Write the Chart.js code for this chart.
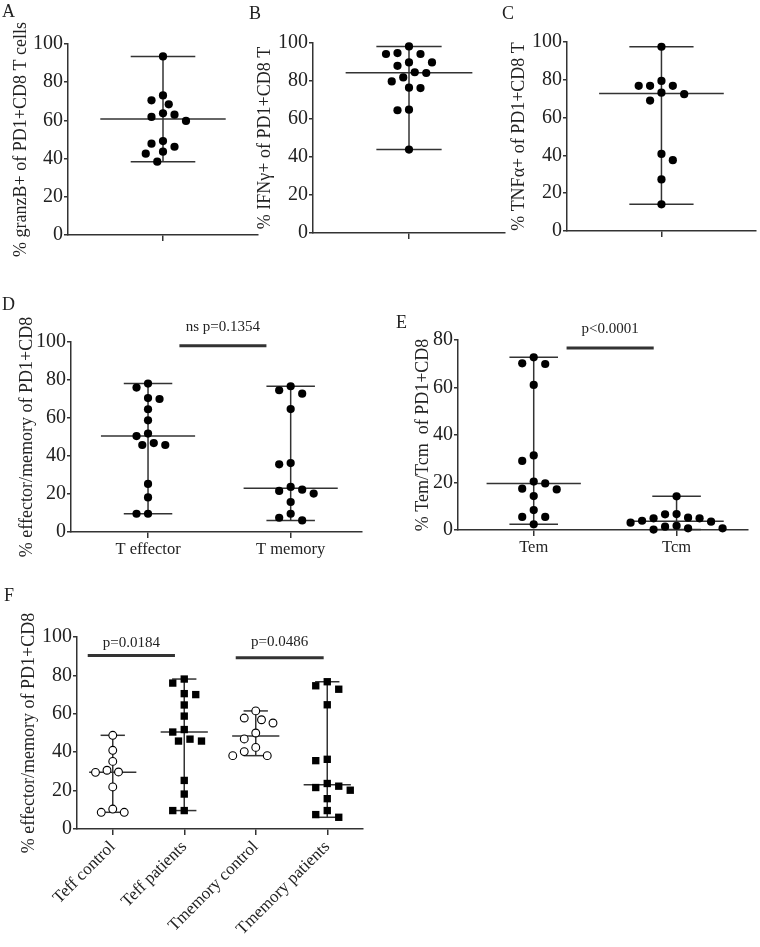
<!DOCTYPE html>
<html>
<head>
<meta charset="utf-8">
<script src="https://cdn.jsdelivr.net/npm/chart.js@4.4.0/dist/chart.umd.min.js"></script>
<style>
body{margin:0;background:#fff;}
#fig{position:relative;width:760px;height:947px;overflow:hidden;background:#fff;}
#fig canvas{position:absolute;left:0;top:0;}
.lbl{position:absolute;font:18px "Liberation Serif","Times New Roman",serif;color:#222;line-height:18px;}
</style>
</head>
<body>
<div id="fig">
  <canvas id="cA" width="760" height="947"></canvas>
  <canvas id="cB" width="760" height="947"></canvas>
  <canvas id="cC" width="760" height="947"></canvas>
  <canvas id="cD" width="760" height="947"></canvas>
  <canvas id="cE" width="760" height="947"></canvas>
  <canvas id="cF" width="760" height="947"></canvas>
  <div class="lbl" style="left:2px;top:2px">A</div>
  <div class="lbl" style="left:249px;top:4px">B</div>
  <div class="lbl" style="left:502px;top:4px">C</div>
  <div class="lbl" style="left:2px;top:295px">D</div>
  <div class="lbl" style="left:396px;top:313px">E</div>
  <div class="lbl" style="left:4px;top:586px">F</div>
</div>
<script>
// values (percent)
var granzB = [93.5, 70.5, 68.4, 73.1, 63.0, 59.7, 61.8, 63.7, 47.8, 46.2, 49.2, 43.6, 42.6, 38.4];
var ifng = [98.2, 94.7, 94.2, 94.2, 89.8, 88.0, 89.8, 84.6, 84.2, 81.9, 79.8, 76.3, 76.5, 64.9, 64.6, 43.9];
var tnfa = [97.5, 76.8, 76.8, 76.8, 79.4, 72.4, 73.2, 69.0, 40.8, 37.5, 27.3, 14.1];
var tEffector = [78.1, 76.0, 70.5, 70.0, 64.6, 58.8, 50.5, 51.8, 45.8, 45.8, 46.8, 25.3, 18.2, 9.6, 9.6];
var tMemory = [76.7, 74.6, 72.8, 64.7, 36.3, 35.6, 23.7, 20.2, 22.3, 21.6, 15.8, 9.6, 6.1, 7.5];
var tem = [72.7, 69.9, 70.2, 61.1, 31.4, 29.1, 20.4, 19.6, 17.4, 17.1, 14.3, 8.4, 5.5, 5.5, 2.4];
var tcm = [14.2, 6.7, 6.6, 5.2, 4.9, 4.9, 3.5, 3.9, 3.1, 1.8, 0.7, 0.2, 0.7, 1.4];
var teffControl = [48.8, 41.0, 35.2, 30.6, 29.5, 29.7, 21.9, 10.4, 8.7, 8.7];
var tmemControl = [61.5, 57.8, 56.9, 55.2, 50.0, 46.9, 42.5, 40.3, 38.2, 38.2];

var catsDE = ['T effector', 'T memory'];
var catsE = ['Tem', 'Tcm'];
var catsF = ['Teff control', 'Teff patients', 'Tmemory control', 'Tmemory patients'];
var yTicks100 = [0, 20, 40, 60, 80, 100];
var yTicks80 = [0, 20, 40, 60, 80];

var sigText = ['ns p=0.1354', 'p<0.0001', 'p=0.0184', 'p=0.0486'];
var sigFrom = [0.22, 0.23, -0.35, 1.72];
var sigTo = [0.83, 0.84, 0.87, 2.95];
var sigLevel = [98.0, 76.6, 90.3, 89.2];
var sigLabelLevel = [105.9, 83.1, 94.8, 95.1];

Chart.defaults.font.family = '"Liberation Serif", "Times New Roman", serif';
Chart.defaults.color = '#222';

var INK = '#333';
var MED = 0.33, CAP = 0.17;

var panels = [
  {id:'cA', left:68, top:44, right:258, bottom:235, titleX:21.5, xMin:-0.5, xMax:0.5, yTicks:yTicks100,
   title:'% granzB+ of PD1+CD8 T cells', cats:[''], groups:[granzB], marks:['dot'], sig:[], xh:12, rot:0},
  {id:'cB', left:313, top:43, right:505, bottom:233, titleX:265.5, xMin:-0.5, xMax:0.5, yTicks:yTicks100,
   title:'% IFNγ+ of PD1+CD8 T', cats:[''], groups:[ifng], marks:['dot'], sig:[], xh:12, rot:0},
  {id:'cC', left:567, top:42, right:758, bottom:231, titleX:519, xMin:-0.5, xMax:0.5, yTicks:yTicks100,
   title:'% TNFα+ of PD1+CD8 T', cats:[''], groups:[tnfa], marks:['dot'], sig:[], xh:12, rot:0},
  {id:'cD', left:71, top:342, right:362, bottom:532, titleX:27.5, xMin:-0.54, xMax:1.5, yTicks:yTicks100,
   title:'% effector/memory of PD1+CD8', cats:catsDE, groups:[tEffector, tMemory], marks:['dot','dot'], sig:[0], xh:30, rot:0},
  {id:'cE', left:458, top:340, right:748, bottom:530, titleX:423, xMin:-0.53, xMax:1.5, yTicks:yTicks80,
   title:'% Tem/Tcm  of PD1+CD8', cats:catsE, groups:[tem, tcm], marks:['dot','dot'], sig:[1], xh:30, rot:0},
  {id:'cF', left:77, top:637, right:363, bottom:829, titleX:29, xMin:-0.5, xMax:3.5, yTicks:yTicks100,
   title:'% effector/memory of PD1+CD8', cats:catsF, groups:[teffControl, tEffector, tmemControl, tMemory],
   marks:['open','square','open','square'], sig:[2,3], xh:110, rot:45}
];

function median(a) {
  var s = a.slice().sort(function(p, q){ return p - q; });
  var n = s.length;
  return n % 2 ? s[(n - 1) / 2] : (s[n / 2 - 1] + s[n / 2]) / 2;
}

// simple beeswarm: spread points sideways so the dots do not overlap
function swarm(vals, ppx, ppy) {
  var STEP = 5.75, DIAM = 10.5;
  var idx = vals.map(function(v, i){ return i; }).sort(function(a, b){ return vals[b] - vals[a]; });
  var placed = [], off = [], bal = 0;
  idx.forEach(function(i) {
    var y = vals[i] * ppy;
    for (var k = 0; k < 60; k++) {
      var cands = k === 0 ? [0] : (bal >= 0 ? [-k * STEP, k * STEP] : [k * STEP, -k * STEP]);
      for (var c = 0; c < cands.length; c++) {
        var cx = cands[c];
        var free = placed.every(function(p){ return Math.hypot(p.x - cx, p.y - y) >= DIAM; });
        if (free) { off[i] = cx; placed.push({x: cx, y: y}); bal += cx; return; }
      }
    }
  });
  return off.map(function(o){ return o / ppx; });
}

function seg(x1, y1, x2, y2, w) {
  return {showLine: true, data: [{x: x1, y: y1}, {x: x2, y: y2}], borderColor: INK, borderWidth: w || 1.5,
          pointRadius: 0, clip: false, order: 2};
}

panels.forEach(function(P) {
  var yMax = P.yTicks[P.yTicks.length - 1];
  var ppx = (P.right - P.left) / (P.xMax - P.xMin);
  var ppy = (P.bottom - P.top) / yMax;
  var datasets = [];

  P.groups.forEach(function(vals, ci) {
    var med = median(vals), lo = Math.min.apply(null, vals), hi = Math.max.apply(null, vals);
    datasets.push(seg(ci, lo, ci, hi));
    datasets.push(seg(ci - MED, med, ci + MED, med));
    datasets.push(seg(ci - CAP, hi, ci + CAP, hi));
    datasets.push(seg(ci - CAP, lo, ci + CAP, lo));
    var off = swarm(vals, ppx, ppy);
    var m = P.marks[ci];
    datasets.push({
      data: vals.map(function(v, j){ return {x: ci + off[j], y: v}; }),
      pointStyle: m === 'square' ? 'rect' : 'circle',
      pointRadius: m === 'square' ? 5.2 : (m === 'open' ? 3.9 : 4.1),
      pointBackgroundColor: m === 'open' ? '#fff' : '#000',
      pointBorderColor: '#000',
      pointBorderWidth: m === 'open' ? 1.1 : 0,
      showLine: false, clip: false, order: 1
    });
  });

  P.sig.forEach(function(s) {
    datasets.push(seg(sigFrom[s], sigLevel[s], sigTo[s], sigLevel[s], 3));
  });

  var padLeft = P.titleX - 10.8;

  var sigPlugin = {
    id: 'sigLabels',
    afterDatasetsDraw: function(chart) {
      var ctx = chart.ctx, xs = chart.scales.x, ys = chart.scales.y;
      ctx.save();
      ctx.fillStyle = '#222';
      ctx.font = '15px "Liberation Serif", "Times New Roman", serif';
      ctx.textAlign = 'center';
      ctx.textBaseline = 'alphabetic';
      P.sig.forEach(function(s) {
        ctx.fillText(sigText[s], xs.getPixelForValue((sigFrom[s] + sigTo[s]) / 2), ys.getPixelForValue(sigLabelLevel[s]));
      });
      ctx.restore();
    }
  };

  new Chart(document.getElementById(P.id), {
    type: 'scatter',
    data: {datasets: datasets},
    plugins: [sigPlugin],
    options: {
      responsive: false,
      animation: false,
      events: [],
      layout: {padding: {left: padLeft, top: P.top, right: 760 - P.right, bottom: 947 - P.bottom - P.xh}},
      plugins: {legend: {display: false}, tooltip: {enabled: false}},
      scales: {
        x: {
          type: 'linear', min: P.xMin, max: P.xMax,
          afterFit: function(s){ s.height = P.xh; },
          afterBuildTicks: function(s){ s.ticks = P.cats.map(function(c, i){ return {value: i}; }); },
          ticks: {
            autoSkip: false, maxRotation: P.rot, minRotation: P.rot, padding: 2, color: '#222',
            font: {size: P.rot ? 17 : 16.5},
            callback: function(v){ return P.cats[Math.round(v)]; }
          },
          grid: {drawOnChartArea: false, tickLength: 6, color: INK, lineWidth: 1.5},
          border: {color: INK, width: 1.5}
        },
        y: {
          min: 0, max: yMax,
          afterFit: function(s){ s.width = P.left - padLeft; },
          afterBuildTicks: function(s){ s.ticks = P.yTicks.map(function(t){ return {value: t}; }); },
          ticks: {padding: 1, color: '#222', font: {size: 20}},
          grid: {drawOnChartArea: false, tickLength: 4, color: INK, lineWidth: 1.5},
          border: {color: INK, width: 1.5},
          title: {display: true, text: P.title, color: '#222', font: {size: 18}, padding: 0}
        }
      }
    }
  });
});
</script>
</body>
</html>
